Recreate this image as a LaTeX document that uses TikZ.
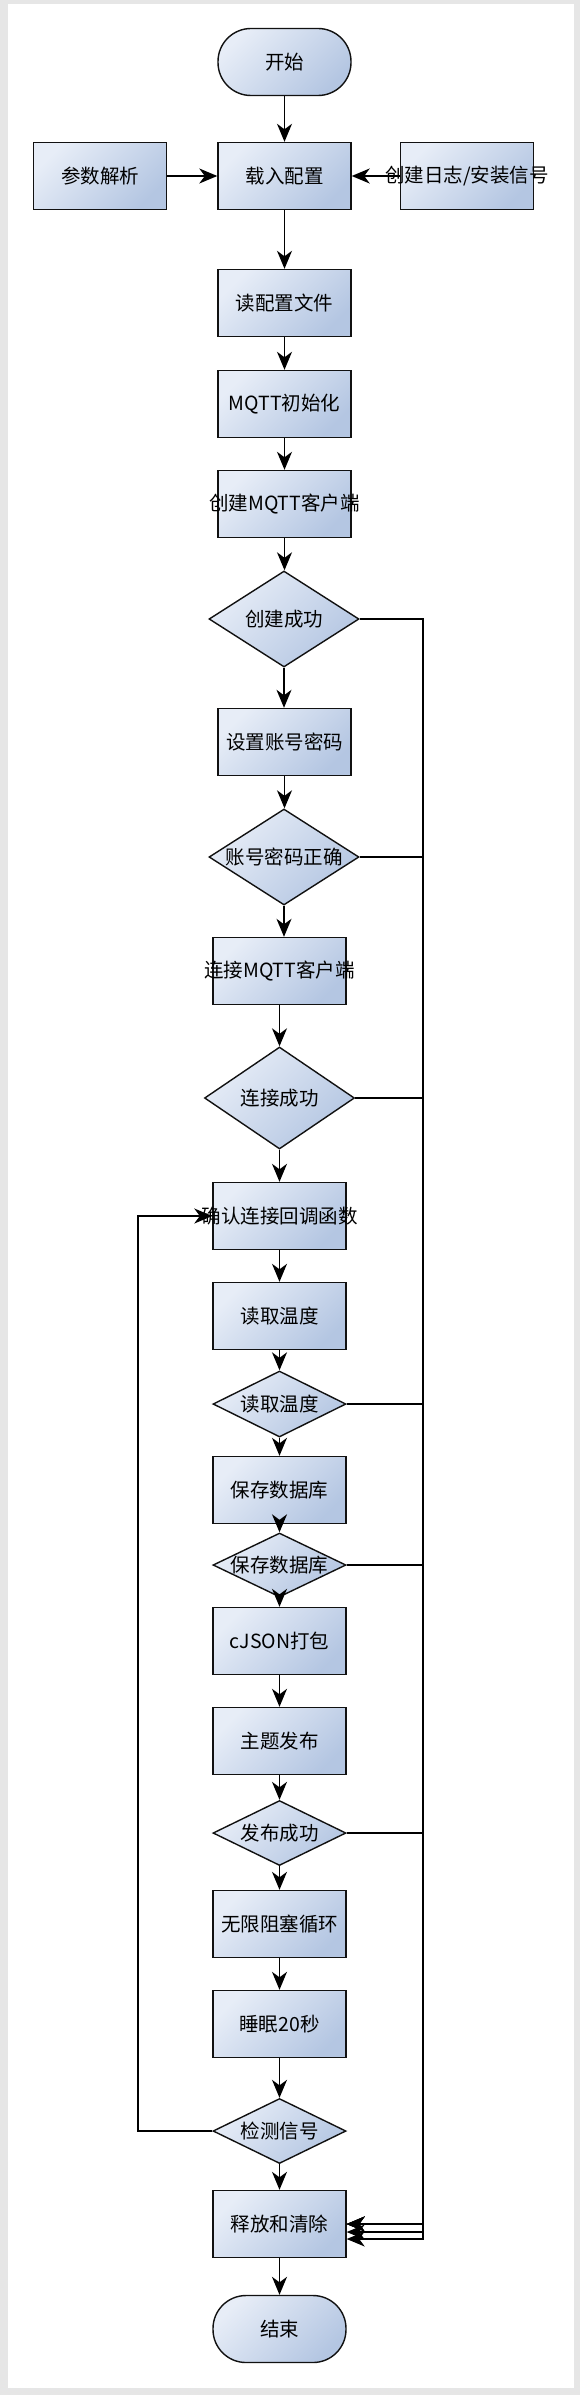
\documentclass[tikz,border=0pt]{standalone}
\usepackage{fontspec}
\setmainfont{Noto Sans CJK SC}
\usetikzlibrary{shapes.geometric,arrows.meta}
\definecolor{gl}{HTML}{E7EDF7}
\definecolor{gd}{HTML}{B4C6E2}
\definecolor{pagebg}{HTML}{E6E6E6}
\definecolor{edge}{HTML}{111111}
\begin{document}
\begin{tikzpicture}[x=1pt,y=-1pt,
  txt/.style={font=\fontsize{19.5}{22}\selectfont},
  box/.style={draw=edge, line width=1.4pt, rectangle, minimum width=133pt, minimum height=67pt,
    inner sep=0pt, top color=gl, bottom color=gd, shading angle=45, txt},
  term/.style={box, rounded corners=33pt},
  dia/.style={draw=edge, line width=1.4pt, diamond, inner sep=0pt,
    top color=gl, bottom color=gd, shading angle=45},
  arr/.style={line width=1.5pt, draw=black, -{Stealth[length=18pt,width=15pt,inset=5.5pt]}}]
\useasboundingbox (0,0) rectangle (580,2395);
\fill[pagebg] (0,0) rectangle (580,2395);
\fill[white] (8,4) rectangle (574,2388);

% nodes
\node[term] (start) at (284.5,62) {开始};
\node[box] (load) at (284.5,176) {载入配置};
\node[box] (param) at (100,176) {参数解析};
\node[box] (log) at (467,176) {};
\node[txt] (logt) at (467,176) {创建日志/安装信号};
\node[box] (readcfg) at (284.5,303) {读配置文件};
\node[box] (init) at (284.5,404) {MQTT初始化};
\node[box] (create) at (284.5,504) {};
\node[txt] (createt) at (284.5,504) {创建MQTT客户端};
\node[dia, minimum width=150pt, minimum height=96pt] (d1) at (284,619) {};
\node[txt] (d1t) at (d1) {创建成功};
\node[box] (setpw) at (284.5,742) {设置账号密码};
\node[dia, minimum width=150pt, minimum height=96pt] (d2) at (284,857) {};
\node[txt] (d2t) at (d2) {账号密码正确};
\node[box] (conn) at (279.5,971) {};
\node[txt] (connt) at (279.5,971) {连接MQTT客户端};
\node[dia, minimum width=150pt, minimum height=102pt] (d3) at (279.5,1098) {};
\node[txt] (d3t) at (d3) {连接成功};
\node[box] (confirm) at (279.5,1216) {};
\node[txt] (confirmt) at (279.5,1216) {确认连接回调函数};
\node[box] (readtemp) at (279.5,1316) {读取温度};
\node[dia, minimum width=133pt, minimum height=66pt] (d4) at (279.5,1404) {};
\node[txt] (d4t) at (d4) {读取温度};
\node[box] (save) at (279.5,1490) {保存数据库};
\node[dia, minimum width=133pt, minimum height=64pt] (d5) at (279.5,1565) {};
\node[txt] (d5t) at (d5) {保存数据库};
\node[box] (cjson) at (279.5,1641) {cJSON打包};
\node[box] (pub) at (279.5,1741) {主题发布};
\node[dia, minimum width=133pt, minimum height=65pt] (d6) at (279.5,1833) {};
\node[txt] (d6t) at (d6) {发布成功};
\node[box] (loop) at (279.5,1924) {无限阻塞循环};
\node[box] (sleep) at (279.5,2024) {睡眠20秒};
\node[dia, minimum width=133pt, minimum height=65pt] (d7) at (279.5,2131) {};
\node[txt] (d7t) at (d7) {检测信号};
\node[box] (rel) at (279.5,2224) {释放和清除};
\node[term] (stop) at (279.5,2329) {结束};

% helper coordinates
\coordinate (bus) at (423,0);
\coordinate (lp) at (138,0);
\coordinate (b1) at (423,2224);
\coordinate (b2) at (423,2232);
\coordinate (b3) at (423,2239);

% main chain
\draw[arr] (start) -- (load);
\draw[arr] (param) -- (load);
\draw[arr] (log) -- (load);
\draw[arr] (load) -- (readcfg);
\draw[arr] (readcfg) -- (init);
\draw[arr] (init) -- (create);
\draw[arr] (create.south) -- (create.south |- d1.north);
\draw[arr] (d1.south) -- (d1.south |- setpw.north);
\draw[arr] (setpw.south) -- (setpw.south |- d2.north);
\draw[arr] (d2.south) -- (d2.south |- conn.north);
\draw[arr] (conn) -- (d3);
\draw[arr] (d3) -- (confirm);
\draw[arr] (confirm) -- (readtemp);
\draw[arr] (readtemp) -- (d4);
\draw[arr] (d4) -- (save);
\draw[arr] (save) -- (d5);
\draw[arr] (d5) -- (cjson);
\draw[arr] (cjson) -- (pub);
\draw[arr] (pub) -- (d6);
\draw[arr] (d6) -- (loop);
\draw[arr] (loop) -- (sleep);
\draw[arr] (sleep) -- (d7);
\draw[arr] (d7) -- (rel);
\draw[arr] (rel) -- (stop);

% failure bus
\draw[arr] (d1.east) -- (d1.east -| bus) -- (b3) -- (b3 -| rel.east);
\draw[arr] (d2.east) -- (d2.east -| bus) -- (b2) -- (b2 -| rel.east);
\draw[arr] (d3.east) -- (d3.east -| bus) -- (b1) -- (b1 -| rel.east);
\draw[arr] (d4.east) -- (d4.east -| bus) -- (b1) -- (b1 -| rel.east);
\draw[arr] (d5.east) -- (d5.east -| bus) -- (b1) -- (b1 -| rel.east);
\draw[arr] (d6.east) -- (d6.east -| bus) -- (b1) -- (b1 -| rel.east);

% loop back
\draw[arr] (d7.west) -- (d7.west -| lp) -- (lp |- confirm.west) -- (confirm.west);
\end{tikzpicture}
\end{document}
